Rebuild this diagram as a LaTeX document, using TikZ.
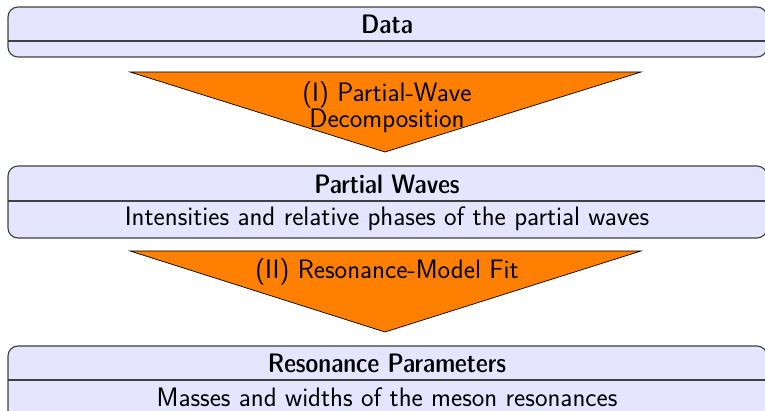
\documentclass[tikz,border=0pt]{standalone}
\usepackage{tikz}
\begin{document}
\begin{tikzpicture}[x=1pt,y=-1pt,
  font=\sffamily\fontsize{26.7}{26}\selectfont,
  box/.style={draw=black!75, fill=blue!10, rounded corners=10pt, line width=1.1pt},
  divider/.style={draw=black!75, line width=1.1pt},
  tri/.style={draw=black, fill=orange, line width=0.7pt},
  lbl/.style={inner sep=0pt, anchor=center},
  head/.style={lbl, font=\sffamily\fontsize{26.7}{26}\fontseries{sbc}\selectfont}]
\useasboundingbox (0,0) rectangle (765,411);
% box 1
\draw[box] (8,7) rectangle (767,57);
\draw[divider] (8,41) -- (767,41);
\node[head] (data) at (387,24) {Data};
% arrow 1
\coordinate (t1l) at (130,72);
\coordinate (t1r) at (641,72);
\coordinate (t1a) at (385,152);
\draw[tri] (t1l) -- (t1r) -- (t1a) -- cycle;
\node[lbl, align=center] (step1) at (387,107) {(I) Partial-Wave\\Decomposition};
% box 2
\draw[box] (8,166) rectangle (767,238);
\draw[divider] (8,201) -- (767,201);
\node[head] (pw) at (387,184) {Partial Waves};
\node[lbl] (pwd) at (387,219) {Intensities and relative phases of the partial waves};
% arrow 2
\coordinate (t2l) at (130,251);
\coordinate (t2r) at (641,251);
\coordinate (t2a) at (385,332);
\draw[tri] (t2l) -- (t2r) -- (t2a) -- cycle;
\node[lbl] (step2) at (387,272) {(II) Resonance-Model Fit};
% box 3
\draw[box] (8,346) rectangle (767,430);
\draw[divider] (8,380) -- (767,380);
\node[head] (rp) at (387,363) {Resonance Parameters};
\node[lbl] (rpd) at (387,397) {Masses and widths of the meson resonances};
\end{tikzpicture}
\end{document}
